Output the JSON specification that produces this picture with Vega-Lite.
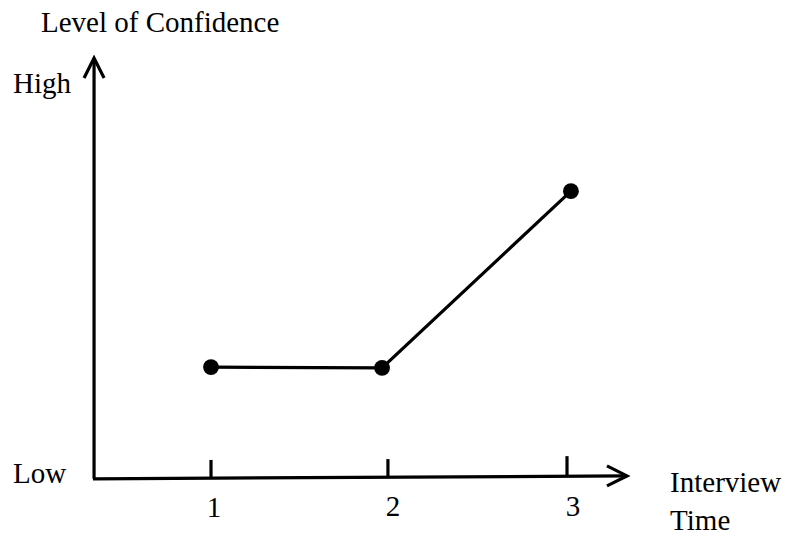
{
  "$schema": "https://vega.github.io/schema/vega-lite/v6.json",
  "width": 786,
  "height": 537,
  "autosize": {"type": "none"},
  "padding": 0,
  "background": "white",
  "config": {"view": {"stroke": null}},
  "datasets": {
    "axes": [
      {"axis": "y", "x0": 0.343, "y0": -0.02, "x1": 0.343, "y1": 10.0},
      {"axis": "x", "x0": 0.337, "y0": -0.02, "x1": 3.337, "y1": 0.05}
    ],
    "ticks": [
      {"t": 1, "y0": -0.01, "y1": 0.43},
      {"t": 1.994, "y0": 0.01, "y1": 0.45},
      {"t": 3.0, "y0": 0.04, "y1": 0.52}
    ],
    "confidence": [
      {"interview": 1, "confidence": 2.64},
      {"interview": 1.961, "confidence": 2.62},
      {"interview": 3.022, "confidence": 6.83}
    ],
    "arrows": [
      {"dir": "up", "x": 0.343, "y": 10.0},
      {"dir": "right", "x": 3.337, "y": 0.05}
    ],
    "leftlabels": [
      {"label": "Level of Confidence", "x": 0.045, "y": 10.62},
      {"label": "High", "x": -0.112, "y": 9.17},
      {"label": "Low", "x": -0.112, "y": -0.119},
      {"label": "Interview", "x": 3.579, "y": -0.34},
      {"label": "Time", "x": 3.579, "y": -1.24}
    ],
    "ticklabels": [
      {"label": "1", "x": 1.017, "y": -0.929},
      {"label": "2", "x": 2.022, "y": -0.905},
      {"label": "3", "x": 3.034, "y": -0.905}
    ]
  },
  "layer": [
    {
      "data": {"name": "axes"},
      "mark": {"type": "rule", "color": "black", "strokeWidth": 3.2, "strokeCap": "butt"},
      "encoding": {
        "x": {"field": "x0", "type": "quantitative", "scale": {"domain": [-0.1854, 4.2303], "nice": false, "zero": false}, "axis": null},
        "y": {"field": "y0", "type": "quantitative", "scale": {"domain": [-1.405, 11.381], "nice": false, "zero": false}, "axis": null},
        "x2": {"field": "x1"},
        "y2": {"field": "y1"}
      }
    },
    {
      "data": {"name": "ticks"},
      "mark": {"type": "rule", "color": "black", "strokeWidth": 3.2, "strokeCap": "butt"},
      "encoding": {
        "x": {"field": "t", "type": "quantitative"},
        "y": {"field": "y0", "type": "quantitative"},
        "y2": {"field": "y1"}
      }
    },
    {
      "data": {"name": "confidence"},
      "mark": {"type": "line", "color": "black", "strokeWidth": 3.2},
      "encoding": {
        "x": {"field": "interview", "type": "quantitative"},
        "y": {"field": "confidence", "type": "quantitative"}
      }
    },
    {
      "data": {"name": "confidence"},
      "mark": {"type": "point", "shape": "circle", "filled": true, "color": "black", "opacity": 1, "size": 250},
      "encoding": {
        "x": {"field": "interview", "type": "quantitative"},
        "y": {"field": "confidence", "type": "quantitative"}
      }
    },
    {
      "data": {"name": "arrows"},
      "mark": {"type": "point", "filled": false, "color": "black", "opacity": 1, "strokeWidth": 3.2, "size": 400, "strokeJoin": "miter"},
      "encoding": {
        "x": {"field": "x", "type": "quantitative"},
        "y": {"field": "y", "type": "quantitative"},
        "shape": {"field": "dir", "type": "nominal", "scale": {"domain": ["up", "right"], "range": ["M-1,2L0,0L1,2", "M-2,-1L0,0L-2,1"]}, "legend": null}
      }
    },
    {
      "data": {"name": "leftlabels"},
      "mark": {"type": "text", "align": "left", "baseline": "alphabetic", "font": "Liberation Serif", "fontSize": 29, "color": "black"},
      "encoding": {
        "x": {"field": "x", "type": "quantitative"},
        "y": {"field": "y", "type": "quantitative"},
        "text": {"field": "label"}
      }
    },
    {
      "data": {"name": "ticklabels"},
      "mark": {"type": "text", "align": "center", "baseline": "alphabetic", "font": "Liberation Serif", "fontSize": 29, "color": "black"},
      "encoding": {
        "x": {"field": "x", "type": "quantitative"},
        "y": {"field": "y", "type": "quantitative"},
        "text": {"field": "label"}
      }
    }
  ]
}
